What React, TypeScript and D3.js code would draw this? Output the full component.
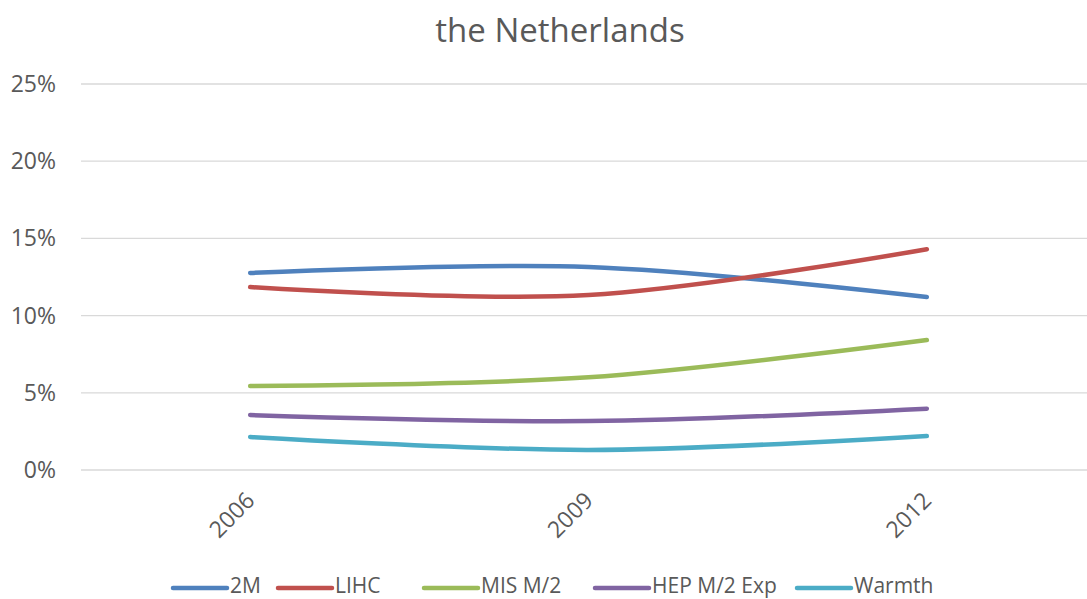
import React from "react";
import * as d3 from "d3";

const years = ["2006", "2009", "2012"];
const seriesNames = ["2M", "LIHC", "MIS M/2", "HEP M/2 Exp", "Warmth"];
const colors = ["#4F81BD", "#C0504D", "#9BBB59", "#8064A2", "#4BACC6"];
const v2M = [12.76, 13.15, 11.2];
const vLIHC = [11.85, 11.33, 14.3];
const vMIS = [5.44, 6.0, 8.42];
const vHEP = [3.56, 3.17, 3.97];
const vWarmth = [2.14, 1.3, 2.2];
const yTicks = [0, 5, 10, 15, 20, 25];
const title = "the Netherlands";

const allValues = [v2M, vLIHC, vMIS, vHEP, vWarmth];

export default function App() {
  const W = 1087, H = 599;
  const font = "'Open Sans', sans-serif";
  const x = d3.scaleBand<string>().domain(years).range([81, 1096]);
  const y = d3.scaleLinear().domain([0, 25]).range([470, 84]);
  const line = d3
    .line<number>()
    .x((_, i) => (x(years[i]) as number) + x.bandwidth() / 2)
    .y((d) => y(d))
    .curve(d3.curveCatmullRom.alpha(0));

  const legendX = [173, 278, 424, 595, 797];

  return (
    <svg width={W} height={H} style={{ position: "absolute", left: 0, top: 0 }}>
      <rect width={W} height={H} fill="#fff" />
      <text x={560} y={42} textAnchor="middle" fontFamily={font} fontSize={33} fill="#595959">
        {title}
      </text>
      {yTicks.map((t) => (
        <g key={t}>
          <line x1={81} x2={W} y1={y(t)} y2={y(t)} stroke="#D9D9D9" strokeWidth={1.3} />
          <text x={56} y={y(t) + 8} textAnchor="end" fontFamily={font} fontSize={23} fill="#595959">
            {t}%
          </text>
        </g>
      ))}
      {years.map((yr) => {
        const cx = (x(yr) as number) + x.bandwidth() / 2;
        return (
          <text
            key={yr}
            transform={`translate(${cx + 6},${502}) rotate(-45)`}
            textAnchor="end"
            fontFamily={font}
            fontSize={23}
            fill="#595959"
          >
            {yr}
          </text>
        );
      })}
      {allValues.map((vals, i) => (
        <path
          key={i}
          d={line(vals) as string}
          fill="none"
          stroke={colors[i]}
          strokeWidth={4.5}
          strokeLinecap="round"
        />
      ))}
      {seriesNames.map((n, i) => (
        <g key={n}>
          <line
            x1={legendX[i]}
            x2={legendX[i] + 54}
            y1={588}
            y2={588}
            stroke={colors[i]}
            strokeWidth={4.5}
            strokeLinecap="round"
          />
          <text x={legendX[i] + 57} y={593} fontFamily={font} fontSize={21} fill="#595959">
            {n}
          </text>
        </g>
      ))}
    </svg>
  );
}
